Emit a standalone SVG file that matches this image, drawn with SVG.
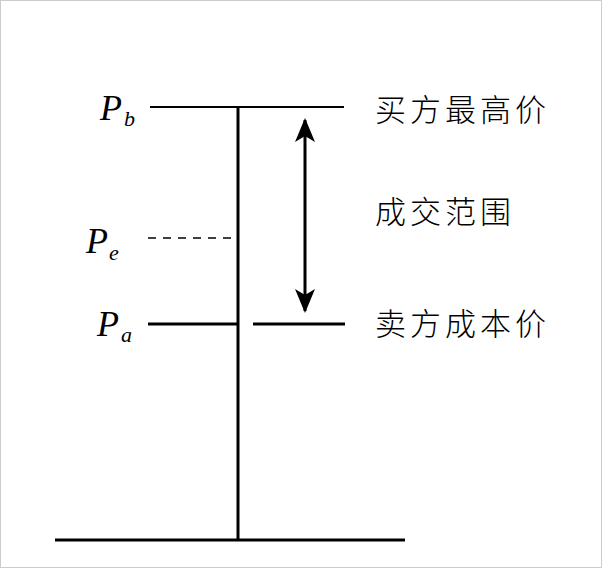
<svg xmlns="http://www.w3.org/2000/svg" width="602" height="568" viewBox="0 0 602 568">
<style>
.l{stroke:#000;fill:none}
.p{font-family:"Liberation Serif",serif;font-style:italic;font-size:36px}
.s{font-family:"Liberation Serif",serif;font-style:italic;font-size:22px}
.c{font-family:"Noto Sans CJK SC",sans-serif;font-size:31px;font-weight:300;letter-spacing:4px}
</style>
<defs><marker id="b" viewBox="0 0 24 20" refX="22" refY="10" markerWidth="24" markerHeight="20" markerUnits="userSpaceOnUse" orient="auto-start-reverse"><path d="M0,0 L24,10 L0,20 L6,10 Z" fill="#000"/></marker></defs>
<rect x="0.5" y="0.5" width="601" height="567" fill="#fff" stroke="#ccc"/>
<g id="connectors">
<line class="l" x1="238" y1="107" x2="238" y2="540" stroke-width="3"/>
<line class="l" x1="55" y1="540" x2="405" y2="540" stroke-width="3"/>
<line class="l" x1="150" y1="107" x2="344" y2="107" stroke-width="2"/>
<line class="l" x1="148" y1="238" x2="233" y2="238" stroke-width="1.5" stroke-dasharray="8,7"/>
<line class="l" x1="148" y1="324" x2="238" y2="324" stroke-width="3"/>
<line class="l" x1="253" y1="324" x2="345" y2="324" stroke-width="3"/>
<line class="l" x1="305" y1="120" x2="305" y2="311" stroke-width="3" marker-start="url(#b)" marker-end="url(#b)"/>
</g>
<g id="Pb"><text class="p" x="100" y="120">P</text><text class="s" x="124" y="126">b</text></g>
<g id="Pe"><text class="p" x="86" y="253">P</text><text class="s" x="109" y="260">e</text></g>
<g id="Pa"><text class="p" x="97" y="336">P</text><text class="s" x="121" y="342">a</text></g>
<g id="t1"><text class="c" x="375" y="121">买方最高价</text></g>
<g id="t2"><text class="c" x="375" y="223">成交范围</text></g>
<g id="t3"><text class="c" x="375" y="335">卖方成本价</text></g>
</svg>
